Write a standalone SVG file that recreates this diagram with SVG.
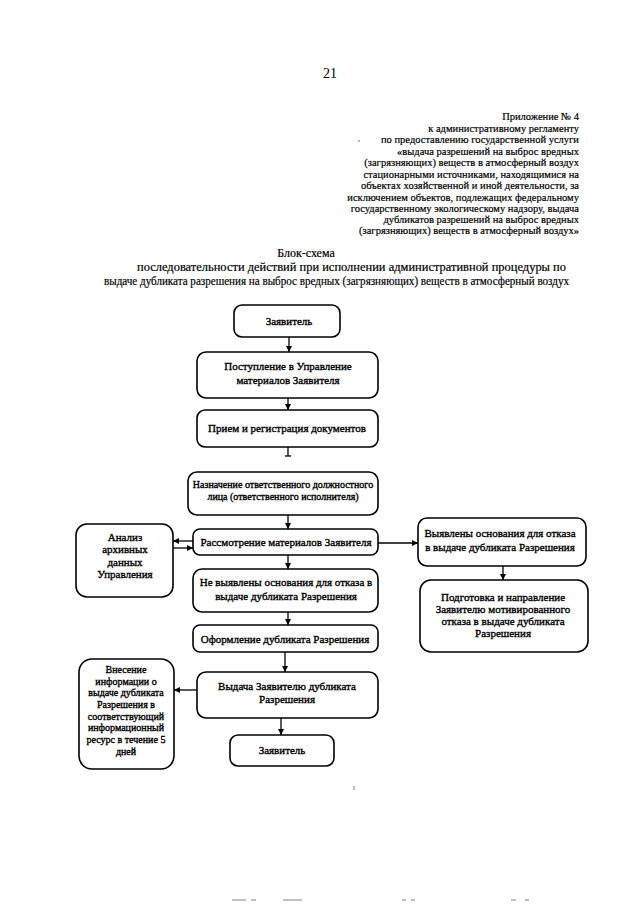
<svg xmlns="http://www.w3.org/2000/svg" width="640" height="905" viewBox="0 0 640 905">
<defs>
<marker id="ah" viewBox="0 0 10 10" refX="10" refY="5" markerWidth="6" markerHeight="6" orient="auto" markerUnits="userSpaceOnUse">
<path d="M0,0 L10,5 L0,10 z" fill="#000"/>
</marker>
<style>
text{font-family:"Liberation Serif","Times New Roman",serif;fill:#000}
.hd{font-size:10.5px;text-anchor:end;stroke:#000;stroke-width:0.2}
.tt{font-size:12px;stroke:#000;stroke-width:0.2}
.b rect{fill:#fff;stroke:#000;stroke-width:1.6}
.b text{font-size:11px;text-anchor:middle;stroke:#000;stroke-width:0.35}
.s text{font-size:10px}
.c line{stroke:#000;stroke-width:1.3}
.art{stroke:#aaa;stroke-width:1.5}
</style>
</defs>
<rect width="640" height="905" fill="#fff"/>
<text x="330" y="78" font-size="14" text-anchor="middle">21</text>
<g id="header">
<text class="hd" x="579" y="120" font-size="12">Приложение № 4</text>
<text class="hd" x="579" y="132">к административному регламенту</text>
<text class="hd" x="579" y="143">по предоставлению государственной услуги</text>
<text class="hd" x="579" y="155">«выдача разрешений на выброс вредных</text>
<text class="hd" x="579" y="166">(загрязняющих) веществ в атмосферный воздух</text>
<text class="hd" x="579" y="178">стационарными источниками, находящимися на</text>
<text class="hd" x="579" y="189">объектах хозяйственной и иной деятельности, за</text>
<text class="hd" x="579" y="201">исключением объектов, подлежащих федеральному</text>
<text class="hd" x="579" y="212">государственному экологическому надзору, выдача</text>
<text class="hd" x="579" y="223">дубликатов разрешений на выброс вредных</text>
<text class="hd" x="579" y="234">(загрязняющих) веществ в атмосферный воздух»</text>
</g>
<g id="title">
<text class="tt" x="306" y="257" text-anchor="middle">Блок-схема</text>
<text class="tt" x="137" y="271" textLength="429" lengthAdjust="spacingAndGlyphs">последовательности действий при исполнении административной процедуры по</text>
<text class="tt" x="104" y="285" textLength="465" lengthAdjust="spacingAndGlyphs">выдаче дубликата разрешения на выброс вредных (загрязняющих) веществ в атмосферный воздух</text>
</g>
<g id="connectors" class="c">
<line x1="289" y1="337" x2="289" y2="352" marker-end="url(#ah)"/>
<line x1="288" y1="398" x2="288" y2="410" marker-end="url(#ah)"/>
<line x1="288" y1="447" x2="288" y2="456"/>
<line x1="285" y1="456" x2="291" y2="456"/>
<line x1="288" y1="515" x2="288" y2="529" marker-end="url(#ah)"/>
<line x1="193" y1="541" x2="173" y2="541" marker-end="url(#ah)"/>
<line x1="173" y1="548" x2="193" y2="548" marker-end="url(#ah)"/>
<line x1="378" y1="543" x2="418" y2="543" marker-end="url(#ah)"/>
<line x1="503" y1="566" x2="503" y2="580" marker-end="url(#ah)"/>
<line x1="288" y1="555" x2="288" y2="569" marker-end="url(#ah)"/>
<line x1="288" y1="612" x2="288" y2="625" marker-end="url(#ah)"/>
<line x1="285" y1="652" x2="285" y2="672" marker-end="url(#ah)"/>
<line x1="197" y1="690" x2="174" y2="690" marker-end="url(#ah)"/>
<line x1="281" y1="718" x2="281" y2="735" marker-end="url(#ah)"/>
</g>
<g id="n1" class="b"><rect x="234" y="305" width="106" height="32" rx="8"/><text x="289" y="325">Заявитель</text></g>
<g id="n2" class="b"><rect x="197" y="352" width="181" height="46" rx="9"/><text x="288" y="370">Поступление в Управление</text><text x="288" y="384">материалов Заявителя</text></g>
<g id="n3" class="b"><rect x="197" y="410" width="181" height="37" rx="8"/><text x="287" y="432">Прием и регистрация документов</text></g>
<g id="n4" class="b s"><rect x="188" y="472" width="190" height="43" rx="9"/><text x="283" y="488">Назначение ответственного должностного</text><text x="283" y="500">лица (ответственного исполнителя)</text></g>
<g id="n5" class="b"><rect x="193" y="529" width="185" height="26" rx="7"/><text x="286" y="546">Рассмотрение материалов Заявителя</text></g>
<g id="n6" class="b"><rect x="76" y="524" width="97" height="73" rx="11"/><text x="125" y="541">Анализ</text><text x="125" y="553">архивных</text><text x="125" y="566">данных</text><text x="125" y="578">Управления</text></g>
<g id="n7" class="b"><rect x="418" y="518" width="168" height="48" rx="9"/><text x="500" y="537">Выявлены основания для отказа</text><text x="500" y="551">в выдаче дубликата Разрешения</text></g>
<g id="n8" class="b"><rect x="420" y="580" width="168" height="72" rx="11"/><text x="503" y="601">Подготовка и направление</text><text x="503" y="613">Заявителю мотивированного</text><text x="503" y="625">отказа в выдаче дубликата</text><text x="503" y="637">Разрешения</text></g>
<g id="n9" class="b"><rect x="193" y="569" width="185" height="43" rx="9"/><text x="286" y="586">Не выявлены основания для отказа в</text><text x="286" y="600">выдаче дубликата Разрешения</text></g>
<g id="n10" class="b"><rect x="193" y="625" width="185" height="27" rx="7"/><text x="285" y="643">Оформление дубликата  Разрешения</text></g>
<g id="n11" class="b"><rect x="197" y="672" width="181" height="46" rx="9"/><text x="287" y="690">Выдача Заявителю дубликата</text><text x="287" y="703">Разрешения</text></g>
<g id="n12" class="b s"><rect x="79" y="659" width="95" height="110" rx="13"/><text x="126" y="673">Внесение</text><text x="126" y="685">информации о</text><text x="126" y="696">выдаче дубликата</text><text x="126" y="708">Разрешения в</text><text x="126" y="720">соответствующий</text><text x="126" y="731">информационный</text><text x="126" y="743">ресурс в течение 5</text><text x="126" y="755">дней</text></g>
<g id="n13" class="b"><rect x="230" y="735" width="104" height="31" rx="8"/><text x="282" y="754">Заявитель</text></g>
<g id="artifacts">
<circle cx="359" cy="141" r="0.8" fill="#555"/>
<line class="art" x1="354" y1="786" x2="354" y2="790"/>
<line class="art" x1="232" y1="900" x2="246" y2="900"/>
<line class="art" x1="251" y1="900" x2="256" y2="900"/>
<line class="art" x1="283" y1="900" x2="302" y2="900"/>
<line class="art" x1="402" y1="900" x2="406" y2="900"/>
<line class="art" x1="411" y1="900" x2="415" y2="900"/>
<line class="art" x1="511" y1="900" x2="516" y2="900"/>
<line class="art" x1="525" y1="900" x2="529" y2="900"/>
</g>
</svg>
